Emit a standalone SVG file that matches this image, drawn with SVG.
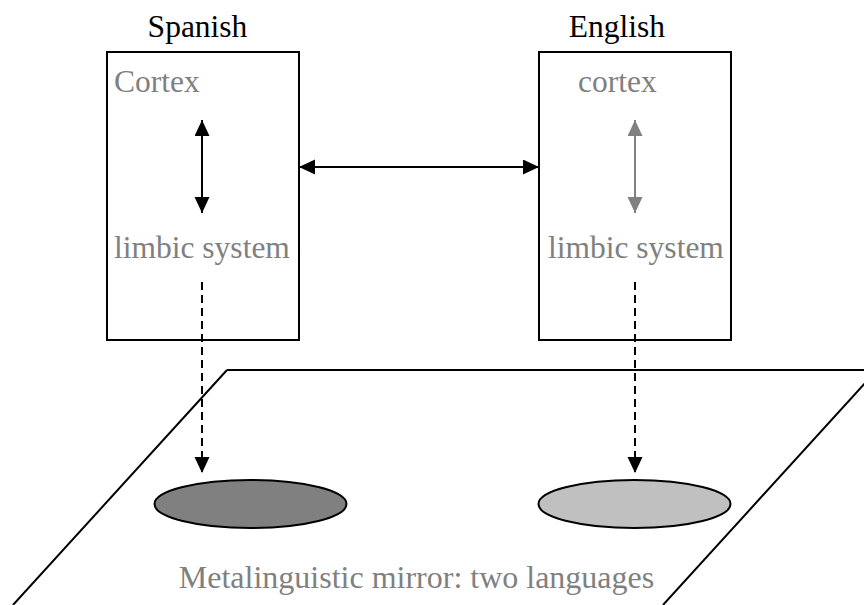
<svg xmlns="http://www.w3.org/2000/svg" width="864" height="605" viewBox="0 0 864 605">
<style>
.box{fill:#fff;stroke:#000;stroke-width:2}
.t{font-family:"Liberation Serif","Times New Roman",serif;font-size:31.5px}
.k{fill:#000}
.g{fill:#808080}
.ln{stroke:#000;stroke-width:2;fill:none}
.lg{stroke:#808080;stroke-width:2;fill:none}
.dash{stroke:#000;stroke-width:2;fill:none;stroke-dasharray:8 5}
</style>
<defs>
<marker id="ah" markerUnits="userSpaceOnUse" markerWidth="16" markerHeight="16" refX="16" refY="7.5" orient="auto-start-reverse"><path d="M0,0 L16,7.5 L0,15 z" fill="#000"/></marker>
<marker id="ahg" markerUnits="userSpaceOnUse" markerWidth="16" markerHeight="16" refX="16" refY="7.5" orient="auto-start-reverse"><path d="M0,0 L16,7.5 L0,15 z" fill="#808080"/></marker>
</defs>
<rect width="864" height="605" fill="#fff"/>
<g id="mirror">
<path d="M227,370 L877,370 L663,605 M227,370 L13,605" class="ln"/>
<ellipse cx="250.5" cy="504" rx="96" ry="24" fill="#808080" stroke="#000" stroke-width="2"/>
<ellipse cx="634.5" cy="504" rx="96" ry="24" fill="#c0c0c0" stroke="#000" stroke-width="2"/>
<text x="416.5" y="588" text-anchor="middle" class="t g" style="font-size:32px">Metalinguistic mirror: two languages</text>
</g>
<g id="spanish">
<rect x="107" y="52" width="192" height="288" class="box"/>
<text x="197.5" y="37" text-anchor="middle" class="t k">Spanish</text>
<text x="114" y="92" class="t g">Cortex</text>
<text x="114" y="258" class="t g">limbic system</text>
</g>
<g id="english">
<rect x="539" y="52" width="192" height="288" class="box"/>
<text x="617" y="37" text-anchor="middle" class="t k">English</text>
<text x="578" y="92" class="t g">cortex</text>
<text x="548" y="258" class="t g">limbic system</text>
</g>
<g id="connectors">
<line x1="299" y1="167" x2="539" y2="167" class="ln" marker-start="url(#ah)" marker-end="url(#ah)"/>
<line x1="202" y1="120" x2="202" y2="213" class="ln" marker-start="url(#ah)" marker-end="url(#ah)"/>
<line x1="635" y1="120" x2="635" y2="213" class="lg" marker-start="url(#ahg)" marker-end="url(#ahg)"/>
<line x1="202" y1="282" x2="202" y2="473" class="dash" marker-end="url(#ah)"/>
<line x1="635" y1="282" x2="635" y2="473" class="dash" marker-end="url(#ah)"/>
</g>
</svg>
